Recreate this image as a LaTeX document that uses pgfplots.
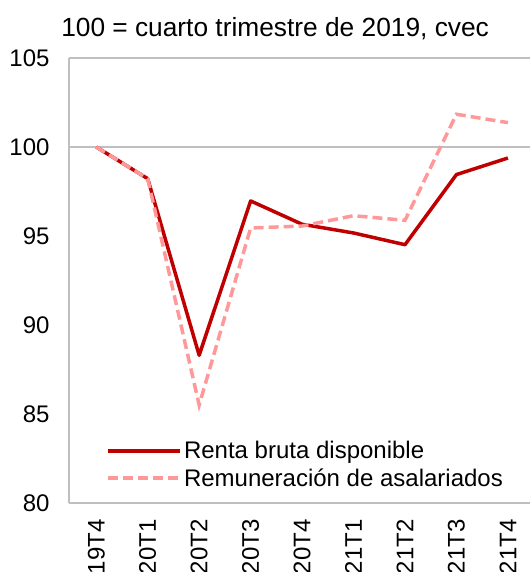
\documentclass[border=0pt]{standalone}
\usepackage{pgfplots}
\pgfplotsset{compat=1.18}
\usepackage{fontspec}
\setmainfont{Liberation Sans}
\definecolor{rbd}{HTML}{C00000}
\definecolor{rem}{HTML}{FF9999}
\definecolor{gridc}{HTML}{BFBFBF}
\newcommand{\bigf}{\fontsize{24}{28}\selectfont}
\newcommand{\titf}{\fontsize{26.3}{30}\selectfont}
\begin{document}
\begin{tikzpicture}
\begin{axis}[
  name=ax,
  scale only axis, width=461pt, height=445pt,
  xmin=-0.53, xmax=8.43, ymin=80, ymax=105,
  ytick={80,85,...,105},
  xtick={0,...,8},
  xticklabels={19T4,20T1,20T2,20T3,20T4,21T1,21T2,21T3,21T4},
  axis x line=bottom, axis y line=left,
  axis line style={-, gridc, line width=1.3pt},
  extra y ticks={100,105}, extra y tick labels={},
  extra y tick style={grid=major, major grid style={gridc, line width=1.3pt}},
  major tick length=0pt,
  tick style={draw=none},
  /pgf/number format/assume math mode=true,
  ticklabel style={font=\bigf, text=black},
  yticklabel style={xshift=-16pt},
  xticklabel style={rotate=90, anchor=east, xshift=-13pt},
  legend image code/.code={\draw[#1] (0pt,0pt) -- (69pt,0pt); \path (0pt,0pt) -- (72pt,0pt);},
  legend style={draw=none, fill=none, font=\bigf, at={(rel axis cs:0.081,0.0865)}, anchor=west, inner xsep=0pt, inner ysep=0pt, row sep=4pt, nodes={inner sep=2pt}},
  legend cell align=left,
  clip=false,
]
\addplot[rbd, line width=3.5pt, line join=round] coordinates {
(0,100) (1,98.22) (2,88.30) (3,96.97) (4,95.66) (5,95.17) (6,94.51) (7,98.45) (8,99.38)};
\addlegendentry{Renta bruta disponible}
\addplot[rem, line width=3.5pt, dash pattern=on 10pt off 5pt] coordinates {
(0,100) (1,98.22) (2,85.50) (3,95.45) (4,95.56) (5,96.14) (6,95.88) (7,101.84) (8,101.37)};
\addlegendentry{Remuneración de asalariados}
\node[anchor=base, font=\titf, yshift=21pt] at (rel axis cs:0.447,1) {100 = cuarto trimestre de 2019, cvec};
\end{axis}
\pgfresetboundingbox
\path[use as bounding box] ([shift={(-69pt,-69pt)}]ax.south west) rectangle ([shift={(461pt,503pt)}]ax.south west);
\end{tikzpicture}
\end{document}
